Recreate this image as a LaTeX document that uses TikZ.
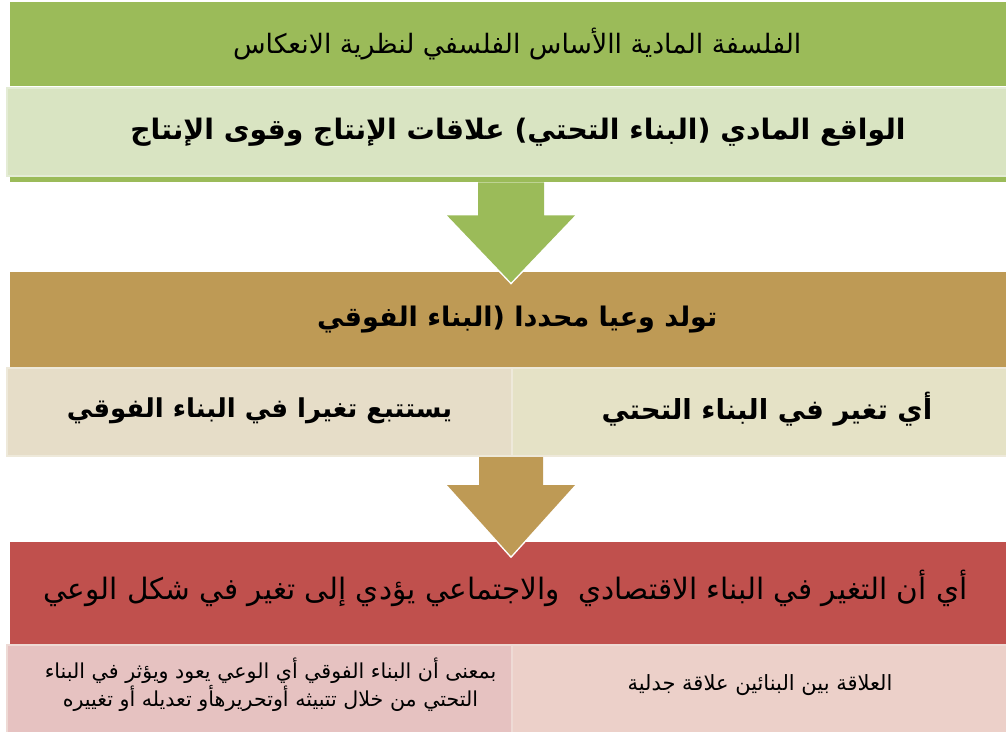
\documentclass[tikz,border=0pt]{standalone}
\usepackage{fontspec}
\TeXXeTstate=1
\newfontfamily\ar[Script=Arabic]{DejaVu Sans}
\usetikzlibrary{calc}
\definecolor{gband}{HTML}{9BBB59}
\definecolor{glight}{HTML}{D9E4C2}
\definecolor{glightrim}{HTML}{E4ECD5}
\definecolor{tband}{HTML}{BE9A55}
\definecolor{tlightL}{HTML}{E6DDC8}
\definecolor{tlightR}{HTML}{E5E2C6}
\definecolor{trim}{HTML}{EEE9DA}
\definecolor{rband}{HTML}{C0504D}
\definecolor{pinkL}{HTML}{E6C2C1}
\definecolor{pinkR}{HTML}{ECD0C9}
\definecolor{prim}{HTML}{EEDAD5}
\newcommand\upby[2]{\raisebox{#1}[\height][\depth]{#2}}
\tikzset{
  band/.style={anchor=north west, inner sep=0pt, text=black},
  lightbox/.style={anchor=north west, inner sep=0pt, line width=2pt, text=black},
  arrowedge/.style={draw=white, line width=3pt, line join=miter},
}
\begin{document}
\begin{tikzpicture}[x=1pt,y=-1pt]
\useasboundingbox (0,0) rectangle (1006,731);
% ---- top green section
\node[band, fill=gband, minimum width=1014pt, minimum height=84pt,
      font=\ar\fontsize{26.7}{32}\selectfont] (t1) at (10,2)
      {\beginR الفلسفة المادية االأساس الفلسفي لنظرية الانعكاس\endR};
\node[band, fill=gband, minimum width=1014pt, minimum height=8pt] (gstrip) at (10,174) {};
\node[lightbox, fill=glight, draw=glightrim, minimum width=1022pt, minimum height=88pt,
      font=\ar\bfseries\fontsize{28.2}{32}\selectfont] (t2) at (6,87)
      {\beginR الواقع المادي (البناء التحتي) علاقات الإنتاج وقوى الإنتاج\endR};
% ---- tan section
\node[band, fill=tband, minimum width=1014pt, minimum height=95pt,
      font=\ar\bfseries\fontsize{27}{32}\selectfont] (t3) at (10,272)
      {\beginR تولد وعيا محددا (البناء الفوقي\endR};
\node[lightbox, fill=tlightL, draw=trim, minimum width=505pt, minimum height=88pt,
      font=\ar\bfseries\fontsize{26}{32}\selectfont] (t4) at (6,367)
      {\upby{1pt}{\beginR يستتبع تغيرا في البناء الفوقي\endR}};
\node[lightbox, fill=tlightR, draw=trim, minimum width=510pt, minimum height=88pt,
      font=\ar\bfseries\fontsize{27.6}{32}\selectfont] (t5) at (511,367)
      {\upby{3pt}{\beginR أي تغير في البناء التحتي\endR}};
% ---- red section
\node[band, fill=rband, minimum width=1014pt, minimum height=102pt,
      font=\ar\fontsize{29.5}{34}\selectfont] (t6) at (10,542)
      {\upby{5pt}{\beginR أي أن التغير في البناء الاقتصادي\ \ والاجتماعي يؤدي إلى تغير في شكل الوعي\endR}\hspace*{24pt}};
\node[lightbox, fill=pinkL, draw=prim, minimum width=505pt, minimum height=88pt,
      font=\ar\fontsize{20.6}{26}\selectfont] (t7) at (6,644)
      {\hspace*{22pt}\upby{3pt}{\begin{tabular}{@{}c@{}}
       \beginR بمعنى أن البناء الفوقي أي الوعي يعود ويؤثر في البناء\endR\\[-1pt]
       \beginR التحتي من خلال تتبيثه أوتحريرهأو تعديله أو تغييره\endR
       \end{tabular}}};
\node[lightbox, fill=pinkR, draw=prim, minimum width=510pt, minimum height=88pt,
      font=\ar\fontsize{21}{25}\selectfont] (t8) at (511,644)
      {\upby{4pt}{\beginR العلاقة بين البنائين علاقة جدلية\endR}\hspace*{14pt}};
% ---- block arrows
\coordinate (a1) at (gstrip.south -| 511,0);
\draw[arrowedge] ($(a1)+(-64,33)$) -- ($(a1)+(0,100)$) -- ($(a1)+(64,33)$);
\fill[gband] ($(a1)+(-33,0)$) -- ($(a1)+(-33,33)$) -- ($(a1)+(-64,33)$)
  -- ($(a1)+(0,100)$) -- ($(a1)+(64,33)$) -- ($(a1)+(33,33)$) -- ($(a1)+(33,0)$) -- cycle;
\coordinate (a2) at (t4.south -| 511,0);
\draw[arrowedge] ($(a2)+(-64,28)$) -- ($(a2)+(0,99)$) -- ($(a2)+(64,28)$);
\fill[tband] ($(a2)+(-32,0)$) -- ($(a2)+(-32,28)$) -- ($(a2)+(-64,28)$)
  -- ($(a2)+(0,99)$) -- ($(a2)+(64,28)$) -- ($(a2)+(32,28)$) -- ($(a2)+(32,0)$) -- cycle;
\end{tikzpicture}
\end{document}
